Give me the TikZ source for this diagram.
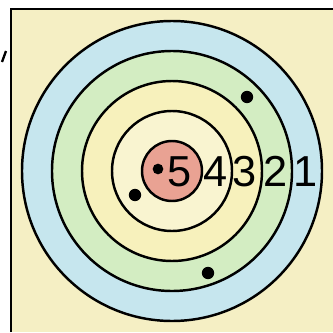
\documentclass[tikz,border=0pt]{standalone}
\usepackage{fontspec}
\setsansfont{Liberation Sans}
\usepackage{tikz}
\definecolor{bgyellow}{HTML}{F5EFC4}
\definecolor{ringblue}{HTML}{C6E6EE}
\definecolor{ringgreen}{HTML}{D3EDC2}
\definecolor{ringyellow}{HTML}{F7F1BC}
\definecolor{ringpale}{HTML}{F9F4D0}
\definecolor{bullred}{HTML}{E9A293}
\tikzset{
  ring/.style    = {draw=black,line width=2.1pt},
  hole/.style    = {circle,fill=black,inner sep=0pt,minimum size=3.7mm},
  score/.style   = {font=\sffamily\fontsize{37}{37}\selectfont,inner sep=0pt,
                    anchor=base},
  frameline/.style = {line width=1.5pt},
}

\begin{document}
\begin{tikzpicture}[x=0.03cm,y=-0.03cm]
  \useasboundingbox (0,0) rectangle (333,332);
  \fill[white] (0,0) rectangle (333,332);
  \fill[bgyellow] (10,9) rectangle (333,332);

  % Frame edges and the small mark on the left
  \draw[frameline] (11,332) -- (11,9) -- (333,9);
  \draw[line width=2pt] (6,51) -- (2,62);

  % Rings, outer to inner
  \coordinate (c) at (172,171);
  \foreach \r/\col in {150/ringblue, 120/ringgreen, 90/ringyellow,
                       60/ringpale, 30/bullred}{
    \fill[\col] (c) circle[radius=\r];
  }
  \foreach \r in {150,120,90,60,30}{
    \draw[ring] (c) circle[radius=\r];
  }

  % Ring scores
  \node[score] (s5) at (180,186) {5};
  \node[score] (s4) at (216,186) {4};
  \node[score] (s3) at (245,186) {3};
  \node[score] (s2) at (276,186) {2};
  \node[score] (s1) at (306,186) {1};

  % Hits
  \node[hole] (h1) at (247,97) {};
  \node[hole] (h2) at (135,195) {};
  \node[hole] (h3) at (208,273) {};
  \node[hole,minimum size=3.2mm] (h4) at (158,169) {};
\end{tikzpicture}
\end{document}
